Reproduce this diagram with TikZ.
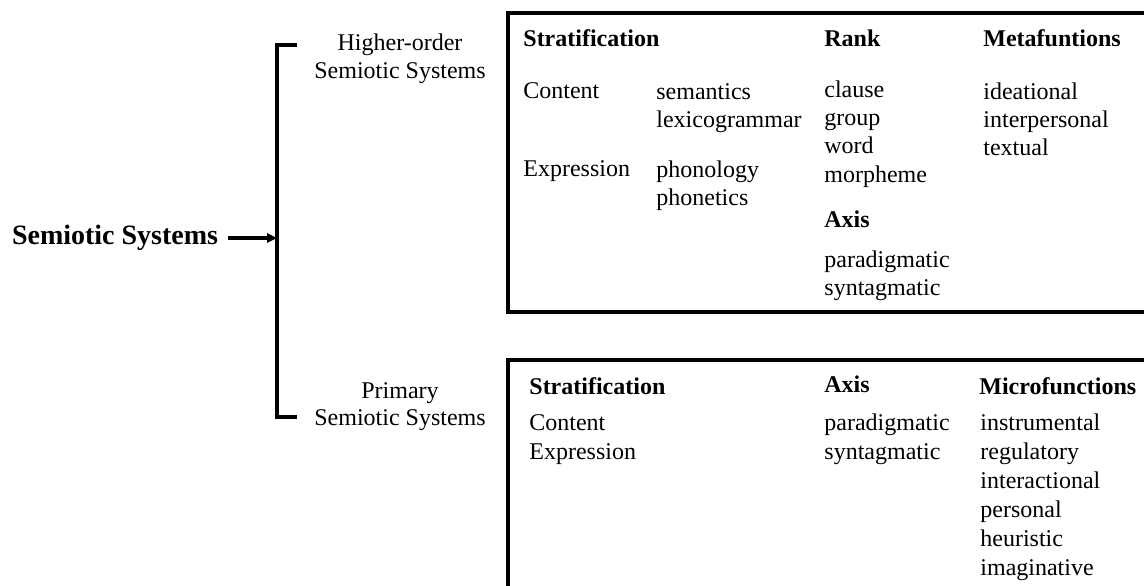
\documentclass[tikz,border=0pt]{standalone}
\usepackage{fontspec}
\setmainfont{Liberation Serif}
\usetikzlibrary{arrows.meta}
\begin{document}
\begin{tikzpicture}[x=0.5pt,y=-0.5pt,
  txt/.style={inner sep=0pt, anchor=base west, font=\fontsize{12}{14}\selectfont},
  hd/.style={txt, font=\fontsize{12}{14}\selectfont\bfseries},
  ctr/.style={inner sep=0pt, anchor=base, font=\fontsize{12}{14}\selectfont},
  title/.style={inner sep=0pt, outer xsep=5pt, anchor=base west, font=\fontsize{14}{16}\selectfont\bfseries},
  frame/.style={line width=1.6pt, line join=miter},
  brk/.style={line width=1.7pt, line join=miter},
  conn/.style={line width=1.6pt, -{Triangle[length=5pt,width=4.5pt]}}]
\useasboundingbox (0,0) rectangle (1144,585);

% root label, bracket and arrow
\node[title] (sys) at (2,244) {Semiotic Systems};
\coordinate (brtop) at (297,45);
\coordinate (brtopc) at (277,45);
\coordinate (brbotc) at (277,417);
\coordinate (brbot) at (297,417);
\coordinate (brmid) at (277,238);
\draw[brk] (brtop) -- (brtopc) -- (brbotc) -- (brbot);
\draw[conn] (sys.east |- brmid) -- (brmid);

% branch labels
\node[ctr] (hi1) at (400,50) {Higher-order};
\node[ctr] (hi2) at (400,78) {Semiotic Systems};
\node[ctr] (pr1) at (400,398) {Primary};
\node[ctr] (pr2) at (400,425) {Semiotic Systems};

% upper frame (open to the right)
\draw[frame] (1146,13) -- (508,13) -- (508,312) -- (1146,312);
\node[hd] (hS) at (523,46) {Stratification};
\node[hd] (hR) at (824,46) {Rank};
\node[hd] (hM) at (983,46) {Metafuntions};
\node[txt] (c1) at (523,98) {Content};
\node[txt] (c2) at (523,176) {Expression};
\node[txt] (s1) at (656,99) {semantics};
\node[txt] (s2) at (656,127) {lexicogrammar};
\node[txt] (s3) at (656,177) {phonology};
\node[txt] (s4) at (656,205) {phonetics};
\node[txt] (r1) at (824,97) {clause};
\node[txt] (r2) at (824,125) {group};
\node[txt] (r3) at (824,153) {word};
\node[txt] (r4) at (824,182) {morpheme};
\node[hd] (hA) at (824,227) {Axis};
\node[txt] (a1) at (824,267) {paradigmatic};
\node[txt] (a2) at (824,295) {syntagmatic};
\node[txt] (m1) at (983,99) {ideational};
\node[txt] (m2) at (983,127) {interpersonal};
\node[txt] (m3) at (983,155) {textual};

% lower frame (open to the right and below)
\draw[frame] (1146,360) -- (508,360) -- (508,587);
\node[hd] (pS) at (529,394) {Stratification};
\node[hd] (pA) at (824,392) {Axis};
\node[hd] (pM) at (979,394) {Microfunctions};
\node[txt] (pc1) at (529,430) {Content};
\node[txt] (pc2) at (529,459) {Expression};
\node[txt] (pa1) at (824,430) {paradigmatic};
\node[txt] (pa2) at (824,459) {syntagmatic};
\node[txt] (f1) at (980,430) {instrumental};
\node[txt] (f2) at (980,459) {regulatory};
\node[txt] (f3) at (980,488) {interactional};
\node[txt] (f4) at (980,517) {personal};
\node[txt] (f5) at (980,546) {heuristic};
\node[txt] (f6) at (980,575) {imaginative};
\end{tikzpicture}
\end{document}
